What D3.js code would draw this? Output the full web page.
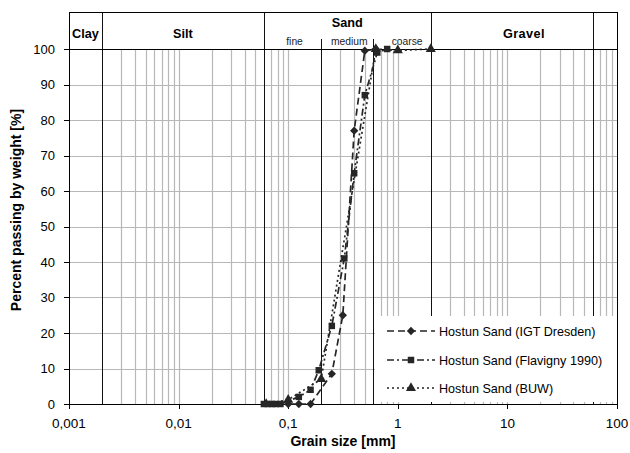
<!DOCTYPE html>
<html><head><meta charset="utf-8">
<script src="https://cdn.jsdelivr.net/npm/d3@7"></script>
<style>
body{margin:0;background:#fff;}
svg{display:block;font-family:"Liberation Sans",Arial,sans-serif;}
</style></head><body>
<svg id="c" width="630" height="453"></svg>
<script>
// ---- data ----
const igtSize = [0.1, 0.125, 0.16, 0.25, 0.315, 0.4, 0.5, 0.63];
const igtPct  = [0, 0, 0, 8.5, 25, 77, 99.5, 100];
const flaSize = [0.06, 0.065, 0.071, 0.077, 0.085, 0.125, 0.16, 0.19, 0.25, 0.325, 0.4, 0.5, 0.65, 0.8];
const flaPct  = [0, 0, 0, 0, 0, 2, 4, 9.5, 22, 41, 65, 87, 99, 100];
const buwSize = [0.063, 0.1, 0.2, 0.63, 1, 2];
const buwPct  = [0, 1.2, 7, 100, 99.6, 100];
const seriesNames = ["Hostun Sand (IGT Dresden)", "Hostun Sand (Flavigny 1990)", "Hostun Sand (BUW)"];
const xTickVals = [0.001, 0.01, 0.1, 1, 10, 100];
const xTickLabels = ["0,001", "0,01", "0,1", "1", "10", "100"];
const yTickVals = [0, 10, 20, 30, 40, 50, 60, 70, 80, 90, 100];
const classNames = ["Clay", "Silt", "Sand", "Gravel"];
const classBounds = [0.001, 0.002, 0.06, 2, 100];
const subNames = ["fine", "medium", "coarse"];
const subBounds = [0.06, 0.2, 0.6, 2];

// ---- layout ----
const L = 69, R = 617, T = 49, B = 404, HT = 12;
const svg = d3.select("#c");
const x = d3.scaleLog().domain([0.001, 100]).range([L, R]);
const y = d3.scaleLinear().domain([0, 100]).range([B, T]);

// minor grid
const minor = [];
for (let e = -3; e <= 1; e++) for (let k = 1; k <= 9; k++) {
  const v = +(k * Math.pow(10, e)).toPrecision(3);
  if (v > 0.001 && v < 100) minor.push(v);
}
const black = [0.002, 0.06, 0.2, 0.6, 2, 60];
const g = svg.append("g");
g.selectAll(".vg").data(minor.filter(v => !black.some(b => Math.abs(b - v) < 1e-9)))
  .enter().append("line")
  .attr("x1", d => Math.round(x(d)) + 0.5).attr("x2", d => Math.round(x(d)) + 0.5)
  .attr("y1", T).attr("y2", B).attr("stroke", "#b8b8b8").attr("stroke-width", 1.2);
g.selectAll(".hg").data(yTickVals.slice(1, -1)).enter().append("line")
  .attr("x1", L).attr("x2", R)
  .attr("y1", d => Math.round(y(d)) + 0.5).attr("y2", d => Math.round(y(d)) + 0.5)
  .attr("stroke", "#b8b8b8").attr("stroke-width", 1.2);

// black boundary lines
g.selectAll(".bl").data(black).enter().append("line")
  .attr("x1", d => Math.round(x(d)) + 0.5).attr("x2", d => Math.round(x(d)) + 0.5)
  .attr("y1", d => (d === 0.2 || d === 0.6) ? 39 : HT).attr("y2", B)
  .attr("stroke", "#111").attr("stroke-width", 1);

// frame
svg.append("rect").attr("x", L + 0.5).attr("y", HT + 0.5).attr("width", R - L).attr("height", B - HT)
  .attr("fill", "none").attr("stroke", "#000");
svg.append("line").attr("x1", L).attr("x2", R).attr("y1", T + 0.5).attr("y2", T + 0.5).attr("stroke", "#000");

// header labels
classNames.forEach((n, i) => {
  const cx = (x(classBounds[i]) + x(classBounds[i + 1])) / 2;
  svg.append("text").attr("x", cx).attr("y", n === "Sand" ? 27 : 38)
    .attr("text-anchor", "middle").attr("font-weight", "bold").attr("font-size", 12.7)
    .attr("letter-spacing", n === "Gravel" ? 0.4 : 0).text(n);
});
subNames.forEach((n, i) => {
  const cx = (x(subBounds[i]) + x(subBounds[i + 1])) / 2 + (n === "coarse" ? 5 : 2);
  svg.append("text").attr("x", cx).attr("y", 45).attr("text-anchor", "middle")
    .attr("font-size", 10.3).attr("fill", "#222").text(n);
});

// axes ticks
svg.append("g").selectAll("line").data(xTickVals).enter().append("line")
  .attr("x1", d => Math.round(x(d)) + 0.5).attr("x2", d => Math.round(x(d)) + 0.5)
  .attr("y1", B).attr("y2", B + 5).attr("stroke", "#000");
svg.append("g").selectAll("text").data(xTickVals).enter().append("text")
  .attr("x", d => x(d)).attr("y", 428).attr("text-anchor", "middle").attr("font-size", 13.5)
  .text((d, i) => xTickLabels[i]);
svg.append("g").selectAll("line").data(yTickVals).enter().append("line")
  .attr("x1", L - 5).attr("x2", L).attr("y1", d => Math.round(y(d)) + 0.5).attr("y2", d => Math.round(y(d)) + 0.5)
  .attr("stroke", "#000");
svg.append("g").selectAll("text").data(yTickVals).enter().append("text")
  .attr("x", 55).attr("y", d => y(d) + 4.5).attr("text-anchor", "end").attr("font-size", 13)
  .text(d => d);

// axis titles
svg.append("text").attr("x", (L + R) / 2).attr("y", 446).attr("text-anchor", "middle")
  .attr("font-weight", "bold").attr("font-size", 14).text("Grain size [mm]");
svg.append("text").attr("transform", "translate(21,210) rotate(-90)").attr("text-anchor", "middle")
  .attr("font-weight", "bold").attr("font-size", 14).text("Percent passing by weight [%]");

// series
const col = "#262626";
const series = [
  {s: igtSize, p: igtPct, dash: "7,4", sym: d3.symbolDiamond2, size: 44},
  {s: flaSize, p: flaPct, dash: "7,3,2,3", sym: d3.symbolSquare, size: 42},
  {s: buwSize, p: buwPct, dash: "2,3", sym: d3.symbolTriangle, size: 44}
];
const line = d3.line().x(d => x(d[0])).y(d => y(d[1]));
series.forEach(sr => {
  const pts = sr.s.map((v, i) => [v, sr.p[i]]);
  svg.append("path").attr("d", line(pts)).attr("fill", "none").attr("stroke", col)
    .attr("stroke-width", 1.7).attr("stroke-dasharray", sr.dash);
});
series.forEach(sr => {
  const pts = sr.s.map((v, i) => [v, sr.p[i]]);
  svg.append("g").selectAll("path").data(pts).enter().append("path")
    .attr("d", d3.symbol().type(sr.sym).size(sr.size))
    .attr("transform", d => `translate(${x(d[0])},${y(d[1])})`)
    .attr("fill", col);
});

// legend
svg.append("rect").attr("x", 375).attr("y", 316).attr("width", R - 375).attr("height", 86).attr("fill", "#fff");
const legY = [331, 360, 388];
series.forEach((sr, i) => {
  svg.append("line").attr("x1", 387).attr("x2", 435).attr("y1", legY[i]).attr("y2", legY[i])
    .attr("stroke", col).attr("stroke-width", 1.7).attr("stroke-dasharray", sr.dash);
  svg.append("path").attr("d", d3.symbol().type(sr.sym).size(sr.size)())
    .attr("transform", `translate(411,${legY[i]})`).attr("fill", col);
  svg.append("text").attr("x", 439).attr("y", legY[i] + 4.5).attr("font-size", 12.6).text(seriesNames[i]);
});
</script></body></html>
